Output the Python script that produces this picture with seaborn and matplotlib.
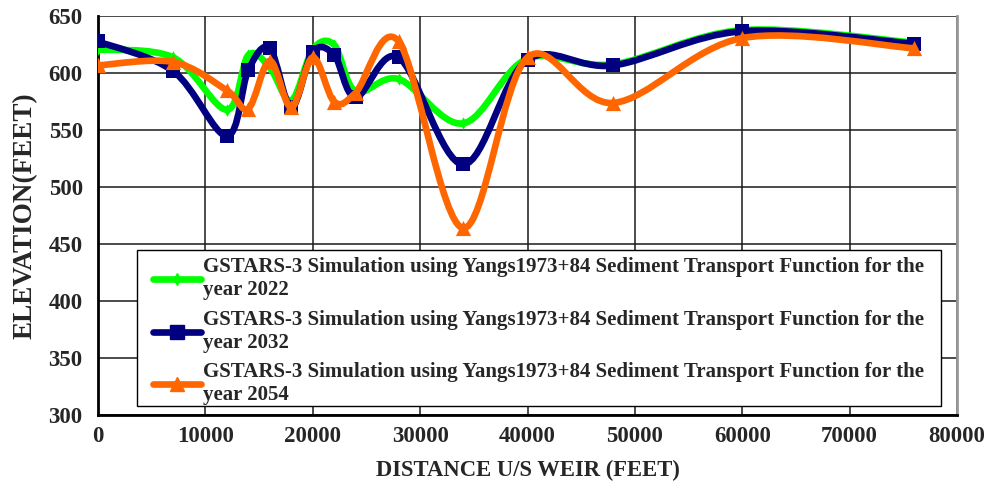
import numpy as np
import pandas as pd
import matplotlib
matplotlib.use("Agg")
import matplotlib.pyplot as plt
import seaborn as sns
from matplotlib.path import Path
from matplotlib.patches import PathPatch, Rectangle
from matplotlib.lines import Line2D
from matplotlib.legend_handler import HandlerLine2D

# distance upstream of weir (feet)
distance = [0, 7000, 12000, 14000, 16000, 18000, 20000, 22000, 24000,
            28000, 34000, 40000, 48000, 60000, 76000]

# bed elevation (feet)
elev_2022 = [621, 614, 568, 616, 605, 576, 621, 625, 584, 595, 556, 613, 608, 638, 627]
elev_2032 = [628, 602, 545, 603, 622, 570, 619, 616, 579, 614, 520, 612, 607, 637, 626]
elev_2054 = [607, 610, 585, 569, 611, 570, 614, 575, 583, 628, 464, 614, 574, 631, 622]

labels = [
    "GSTARS-3 Simulation using Yangs1973+84 Sediment Transport Function for the\nyear 2022",
    "GSTARS-3 Simulation using Yangs1973+84 Sediment Transport Function for the\nyear 2032",
    "GSTARS-3 Simulation using Yangs1973+84 Sediment Transport Function for the\nyear 2054",
]
colors = ["#00FF00", "#000080", "#FF6600"]
markers = ["d", "s", "^"]
msizes = [40, 110, 120]

sns.set_style("white")
plt.rcParams["font.family"] = ["Liberation Serif", "DejaVu Serif"]
plt.rcParams["font.weight"] = "bold"


def smooth_path(xs, ys):
    # Excel-like smoothed line: cubic Bezier segments through the points
    pts = np.column_stack([xs, ys]).astype(float)
    n = len(pts)
    verts = [pts[0]]
    codes = [Path.MOVETO]
    for i in range(n - 1):
        p0 = pts[max(i - 1, 0)]
        p1 = pts[i]
        p2 = pts[i + 1]
        p3 = pts[min(i + 2, n - 1)]
        verts += [p1 + (p2 - p0) / 6, p2 - (p3 - p1) / 6, p2]
        codes += [Path.CURVE4] * 3
    return Path(verts, codes)


class ShortHandle(HandlerLine2D):
    # legend line starts a bit to the right of the handle box
    def get_xdata(self, legend, xdescent, ydescent, width, height, fontsize):
        x0 = -xdescent + 0.1 * width
        x1 = -xdescent + width
        return [x0, x1], [(x0 + x1) / 2]


fig, ax = plt.subplots(figsize=(9.87, 4.84), dpi=100)
fig.subplots_adjust(left=0.0993, right=0.9696, bottom=0.1432, top=0.966)

series = [elev_2022, elev_2032, elev_2054]
for i, (ys, col, mk, ms) in enumerate(zip(series, colors, markers, msizes)):
    patch = PathPatch(smooth_path(distance, ys), facecolor="none", edgecolor=col,
                      lw=4.8, capstyle="round", joinstyle="round", zorder=3 + i)
    ax.add_patch(patch)
    df = pd.DataFrame({"x": distance, "y": ys})
    sns.scatterplot(data=df, x="x", y="y", marker=mk, color=col, s=ms,
                    edgecolor=col, linewidth=0, ax=ax, zorder=3 + i)

ax.set_xlim(0, 80000)
ax.set_ylim(300, 650)
ax.set_xticks(np.arange(0, 80001, 10000))
ax.set_yticks(np.arange(300, 651, 50))
ax.grid(True, color="#1a1a1a", lw=1.1)
ax.set_axisbelow(True)

for s in ["left", "bottom"]:
    ax.spines[s].set_color("black")
    ax.spines[s].set_linewidth(2)
ax.spines["top"].set_visible(False)
ax.spines["right"].set_color("#999999")
ax.spines["right"].set_linewidth(2)

ax.tick_params(axis="x", direction="inout", length=9, width=1.5, labelsize=16.5, pad=4)
ax.tick_params(axis="y", direction="out", length=5, width=1.5, labelsize=16.5, pad=6)
for t in ax.get_xticklabels() + ax.get_yticklabels():
    t.set_fontweight("bold")

ax.set_xlabel("DISTANCE U/S WEIR (FEET)", fontsize=16.3, fontweight="bold", labelpad=9)
ax.set_ylabel("ELEVATION(FEET)", fontsize=19.5, fontweight="bold", labelpad=8)

# legend box drawn separately so its padding matches the original
box = Rectangle((0.0454, 0.0218), 0.936, 0.3917, transform=ax.transAxes,
                facecolor="white", edgecolor="black", lw=1.0, zorder=9)
ax.add_patch(box)

handles = [Line2D([0], [0], color=c, lw=4.8, marker=m, markersize=ms ** 0.5 * 0.9,
                  solid_capstyle="round")
           for c, m, ms in zip(colors, markers, msizes)]
leg = ax.legend(handles, labels, loc="upper left", bbox_to_anchor=(0.0454, 0.421),
                borderaxespad=0, frameon=False, prop={"size": 15, "weight": "bold"},
                handlelength=2.55, handletextpad=0.1, labelspacing=0.45,
                borderpad=0.5, alignment="left",
                handler_map={Line2D: ShortHandle()})
leg.set_zorder(10)

fig.savefig("out.png", dpi=100)
